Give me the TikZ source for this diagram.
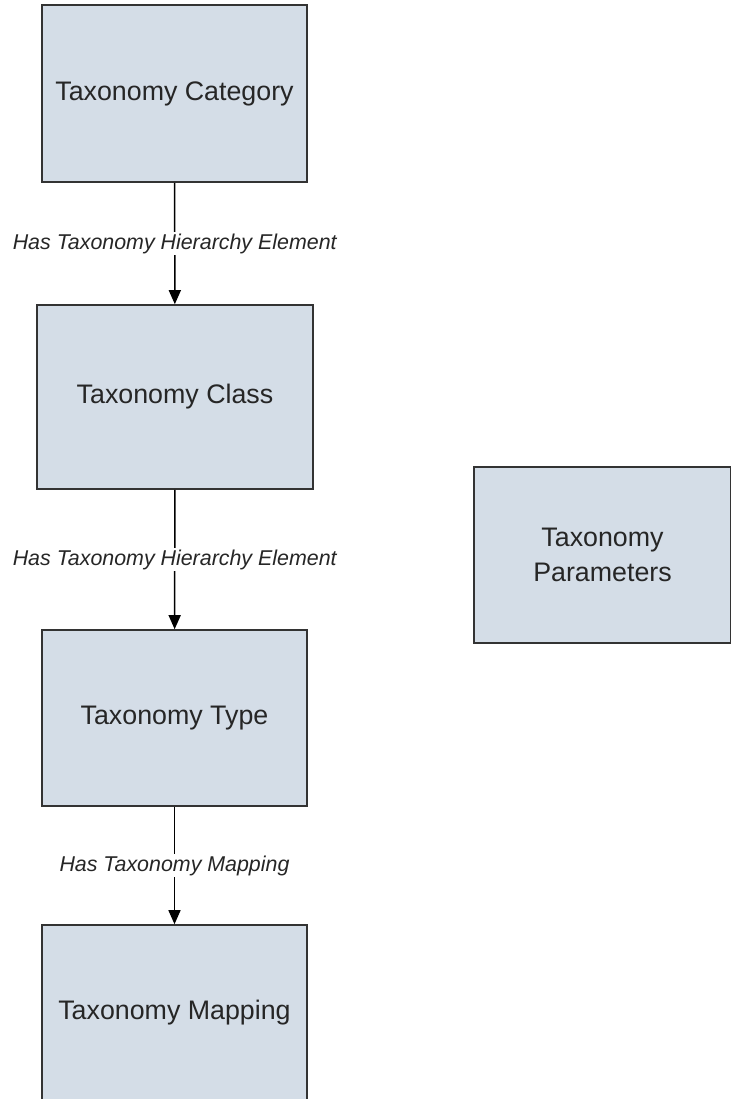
\documentclass[tikz,border=0pt]{standalone}
\usepackage{fontspec}
\setmainfont{Liberation Sans}
\usetikzlibrary{arrows.meta}
\definecolor{color_tax_fill}{HTML}{D4DDE7}
\definecolor{color_tax_line}{HTML}{333333}
\definecolor{color_tax_text}{HTML}{262626}
\tikzset{
    taxbox/.style={draw=color_tax_line, line width=1.6pt, fill=color_tax_fill, text=color_tax_text,
        inner sep=0pt, align=center, font=\fontsize{26.8}{35}\selectfont},
    taxlink/.style={draw=black, line width=1.5pt, -{Triangle[width=12pt,length=14pt]}},
    taxlabel/.style={fill=white, inner sep=2pt, text=color_tax_text, font=\fontsize{21.4}{25}\selectfont\itshape}
}

\begin{document}
\begin{tikzpicture}[x=1pt,y=-1pt]
        \useasboundingbox (0,0) rectangle (730,1099);

        % hierarchy boxes
        \node[taxbox, minimum width=265pt, minimum height=177pt] (category) at (174.5,93.5) {Taxonomy Category};
        \node[taxbox, minimum width=276pt, minimum height=184pt] (class) at (175,397) {Taxonomy Class};
        \node[taxbox, minimum width=265pt, minimum height=176pt] (type) at (174.5,718) {Taxonomy Type};
        \node[taxbox, minimum width=265pt, minimum height=176pt] (mapping) at (174.5,1013) {Taxonomy Mapping};

        % stand-alone box
        \node[taxbox, minimum width=257pt, minimum height=176pt] (parameters) at (602.5,555) {Taxonomy\\Parameters};

        % links
        \draw[taxlink] (category) -- node[taxlabel] {Has Taxonomy Hierarchy Element} (class);
        \draw[taxlink] (class) -- node[taxlabel] {Has Taxonomy Hierarchy Element} (type);
        \draw[taxlink] (type) -- node[taxlabel] {Has Taxonomy Mapping} (mapping);
    \end{tikzpicture}
\end{document}
